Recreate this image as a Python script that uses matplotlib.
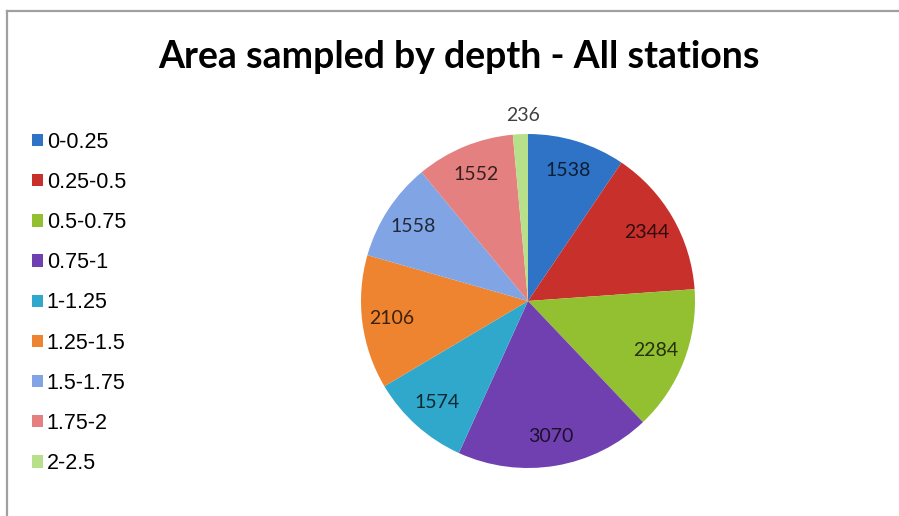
import matplotlib
matplotlib.use("Agg")
import matplotlib.pyplot as plt
from matplotlib.patches import Patch
from matplotlib.lines import Line2D
from matplotlib.colors import to_rgb
from matplotlib.font_manager import FontProperties

categories = ["0-0.25", "0.25-0.5", "0.5-0.75", "0.75-1", "1-1.25",
              "1.25-1.5", "1.5-1.75", "1.75-2", "2-2.5"]
values = [1538, 2344, 2284, 3070, 1574, 2106, 1558, 1552, 236]
colors = ["#2F73C6", "#C8302C", "#92C030", "#7040B0", "#30A8CC",
          "#EE8430", "#80A4E4", "#E48080", "#B8E08A"]
title = "Area sampled by depth - All stations"

W, H = 899, 516
fig = plt.figure(figsize=(W / 100, H / 100), dpi=100)
fig.patch.set_facecolor("white")

# pie axes: centre (528, 301) px, radius ~167 px
cx, cy, r = 528, 301, 167
ax = fig.add_axes([(cx - r) / W, (H - cy - r) / H, 2 * r / W, 2 * r / H])
wedges, texts = ax.pie(values, colors=colors, startangle=90, counterclock=False,
                       labels=[str(v) for v in values], labeldistance=0.82,
                       wedgeprops=dict(linewidth=0),
                       textprops=dict(fontsize=14, family="Lato",
                                      ha="center", va="center"))
ax.set_xlim(-1, 1)
ax.set_ylim(-1, 1)
ax.set_aspect("equal")

for t, c in zip(texts, colors):
    rgb = to_rgb(c)
    t.set_color(tuple(x * 0.25 for x in rgb))
# the thin last slice gets its label outside the pie
texts[-1].set_position((-0.03, 1.11))
texts[-1].set_color("#404040")

fig.text(459 / W, 1 - 57 / H, title, ha="center", va="center",
         fontsize=27, fontweight="bold", family="Lato", color="black")

handles = [Patch(facecolor=c, edgecolor="none") for c in colors]
legend_font = FontProperties(family="Liberation Sans", size=15.5)
fig.legend(handles, categories, loc="upper left",
           bbox_to_anchor=(21 / W, 1 - 121 / H), frameon=False,
           prop=legend_font,
           handlelength=0.5, handleheight=0.5, handletextpad=0.2,
           labelspacing=0.89, borderpad=0)

# chart frame edges
fig.add_artist(Line2D([7 / W, 1], [1 - 11 / H, 1 - 11 / H], color="#A0A0A0",
                      linewidth=1.6, transform=fig.transFigure))
fig.add_artist(Line2D([7 / W, 7 / W], [0, 1 - 11 / H], color="#A0A0A0",
                      linewidth=1.6, transform=fig.transFigure))

fig.savefig("out.png", dpi=100, facecolor="white")
